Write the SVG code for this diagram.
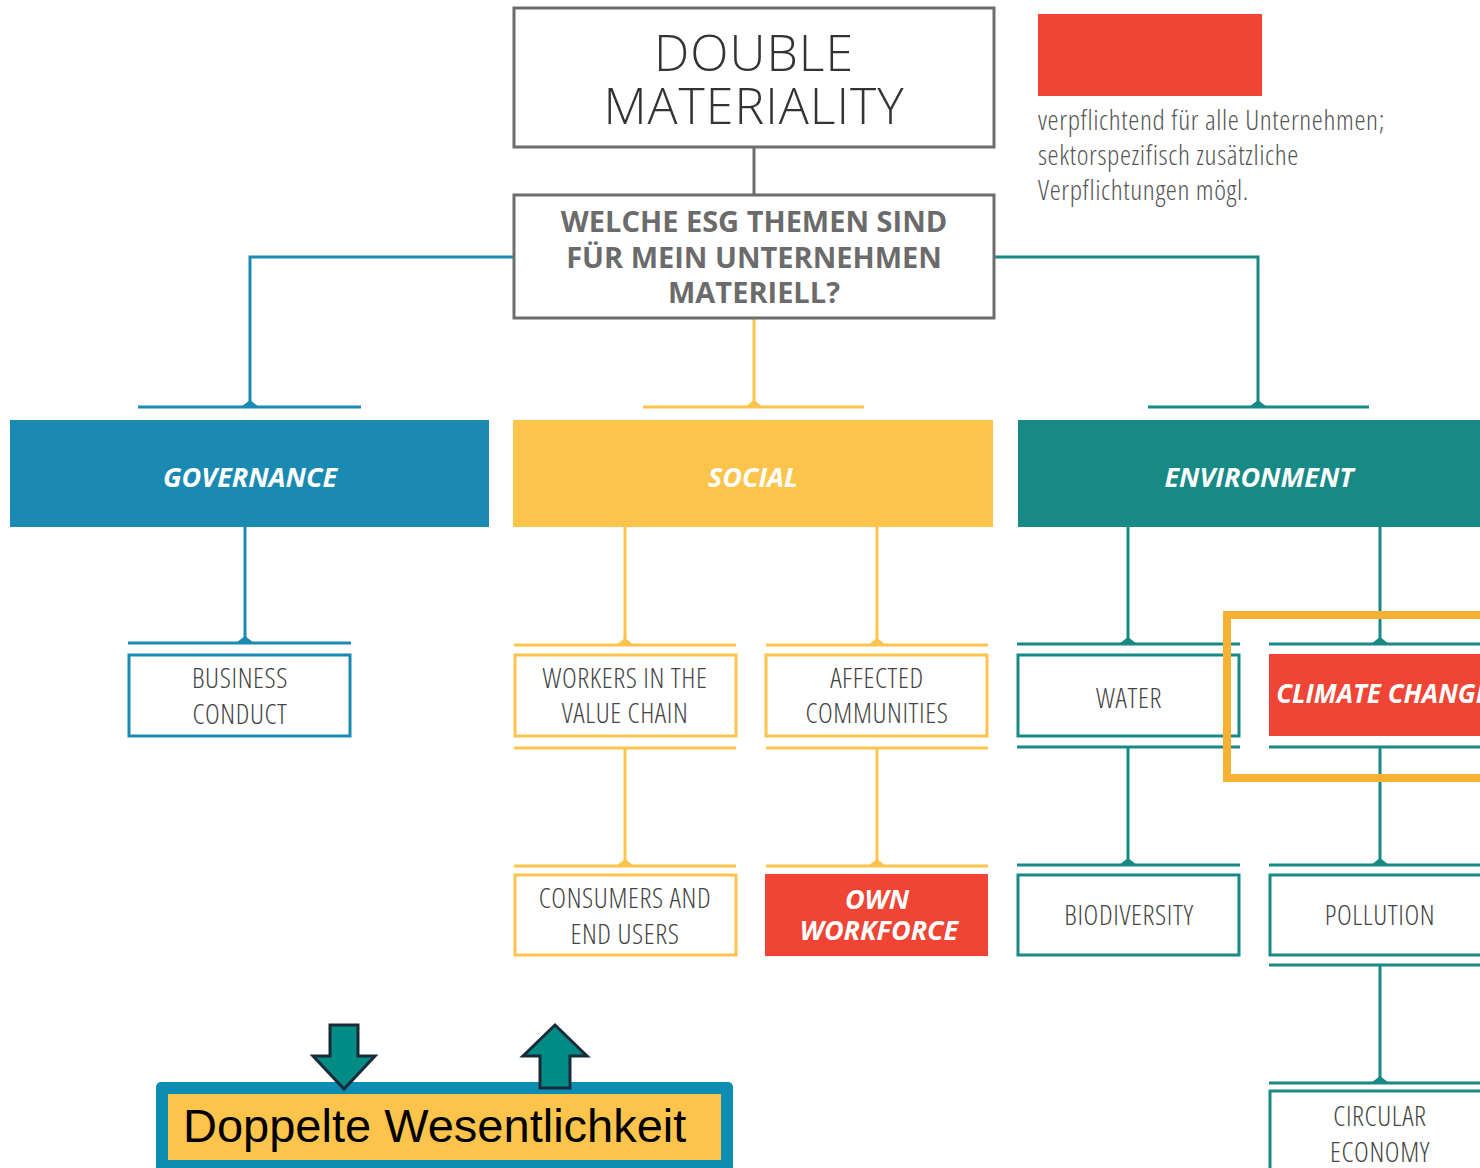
<svg xmlns="http://www.w3.org/2000/svg" width="1480" height="1168" viewBox="0 0 1480 1168">
<style>
.title{font-family:"Open Sans","Liberation Sans",sans-serif;font-weight:300;font-size:50px;fill:#333;text-anchor:middle;letter-spacing:1px}
.q{font-family:"Open Sans","Liberation Sans",sans-serif;font-weight:700;font-size:29px;fill:#6b6b6b;text-anchor:middle}
.hd{font-family:"Open Sans","Liberation Sans",sans-serif;font-weight:700;font-style:italic;font-size:27px;fill:#fff;text-anchor:middle}
.nt{font-family:"Open Sans","Liberation Sans",sans-serif;font-weight:300;font-stretch:condensed;font-size:28px;fill:#444;text-anchor:middle;letter-spacing:0.6px}
.lg{font-family:"Open Sans","Liberation Sans",sans-serif;font-weight:300;font-stretch:condensed;font-size:28px;fill:#555;letter-spacing:0.6px}
.gbox{fill:#fff;stroke:#6d6d6d;stroke-width:3}
.bl{stroke:#1a8ab3;stroke-width:3;fill:none}
.yl{stroke:#fcc44b;stroke-width:3;fill:none}
.tl{stroke:#178a85;stroke-width:3;fill:none}
.blf{fill:#1a8ab3}.ylf{fill:#fcc44b}.tlf{fill:#178a85}
.red{fill:#f04434}
.arrow{fill:#008b85;stroke:#1b2a3a;stroke-width:3;stroke-linejoin:miter}
</style>

<g id="connectors">
  <line x1="754" y1="147" x2="754" y2="195" stroke="#6d6d6d" stroke-width="3"/>
  <!-- governance -->
  <polyline class="bl" points="514,257 250,257 250,406"/>
  <line class="bl" x1="138" y1="407" x2="361" y2="407"/>
  <path class="blf" d="M241,407 L250,400 L259,407 Z"/>
  <line class="bl" x1="245" y1="527" x2="245" y2="643"/>
  <line class="bl" x1="128" y1="643" x2="351" y2="643"/>
  <path class="blf" d="M236,643 L245,636 L254,643 Z"/>
  <!-- social -->
  <line class="yl" x1="754" y1="318" x2="754" y2="406"/>
  <line class="yl" x1="643" y1="407" x2="864" y2="407"/>
  <path class="ylf" d="M745,407 L754,400 L763,407 Z"/>
  <line class="yl" x1="625" y1="527" x2="625" y2="645"/>
  <line class="yl" x1="514" y1="645" x2="736" y2="645"/>
  <path class="ylf" d="M616,645 L625,638 L634,645 Z"/>
  <line class="yl" x1="877" y1="527" x2="877" y2="645"/>
  <line class="yl" x1="766" y1="645" x2="988" y2="645"/>
  <path class="ylf" d="M868,645 L877,638 L886,645 Z"/>
  <line class="yl" x1="514" y1="748" x2="736" y2="748"/>
  <line class="yl" x1="625" y1="748" x2="625" y2="866"/>
  <line class="yl" x1="514" y1="866" x2="736" y2="866"/>
  <path class="ylf" d="M616,866 L625,859 L634,866 Z"/>
  <line class="yl" x1="766" y1="748" x2="988" y2="748"/>
  <line class="yl" x1="877" y1="748" x2="877" y2="866"/>
  <line class="yl" x1="766" y1="866" x2="988" y2="866"/>
  <path class="ylf" d="M868,866 L877,859 L886,866 Z"/>
  <!-- environment -->
  <polyline class="tl" points="994,257 1258,257 1258,406"/>
  <line class="tl" x1="1148" y1="407" x2="1369" y2="407"/>
  <path class="tlf" d="M1249,407 L1258,400 L1267,407 Z"/>
  <line class="tl" x1="1128" y1="527" x2="1128" y2="644"/>
  <line class="tl" x1="1017" y1="644" x2="1240" y2="644"/>
  <path class="tlf" d="M1119,644 L1128,637 L1137,644 Z"/>
  <line class="tl" x1="1380" y1="527" x2="1380" y2="644"/>
  <line class="tl" x1="1269" y1="644" x2="1480" y2="644"/>
  <path class="tlf" d="M1371,644 L1380,637 L1389,644 Z"/>
  <line class="tl" x1="1017" y1="747" x2="1240" y2="747"/>
  <line class="tl" x1="1128" y1="747" x2="1128" y2="865"/>
  <line class="tl" x1="1017" y1="865" x2="1240" y2="865"/>
  <path class="tlf" d="M1119,865 L1128,858 L1137,865 Z"/>
  <line class="tl" x1="1269" y1="747" x2="1480" y2="747"/>
  <line class="tl" x1="1380" y1="747" x2="1380" y2="865"/>
  <line class="tl" x1="1269" y1="865" x2="1480" y2="865"/>
  <path class="tlf" d="M1371,865 L1380,858 L1389,865 Z"/>
  <line class="tl" x1="1269" y1="965" x2="1480" y2="965"/>
  <line class="tl" x1="1380" y1="965" x2="1380" y2="1083"/>
  <line class="tl" x1="1269" y1="1083" x2="1480" y2="1083"/>
  <path class="tlf" d="M1371,1083 L1380,1076 L1389,1083 Z"/>
</g>

<g id="double-materiality">
  <rect class="gbox" x="514" y="8" width="480" height="139"/>
  <text class="title" x="754" y="71">DOUBLE</text>
  <text class="title" x="754" y="124">MATERIALITY</text>
</g>

<g id="question">
  <rect class="gbox" x="514" y="195" width="480" height="123"/>
  <text class="q" x="754" y="232">WELCHE ESG THEMEN SIND</text>
  <text class="q" x="754" y="268">FÜR MEIN UNTERNEHMEN</text>
  <text class="q" x="754" y="303">MATERIELL?</text>
</g>

<g id="legend">
  <rect class="red" x="1038" y="14" width="224" height="82"/>
  <text class="lg" x="1038" y="130">verpflichtend für alle Unternehmen;</text>
  <text class="lg" x="1038" y="165">sektorspezifisch zusätzliche</text>
  <text class="lg" x="1038" y="200">Verpflichtungen mögl.</text>
</g>

<g id="governance">
  <rect class="blf" x="10" y="420" width="479" height="107"/>
  <text class="hd" x="250" y="487">GOVERNANCE</text>
</g>
<g id="social">
  <rect class="ylf" x="513" y="420" width="480" height="107"/>
  <text class="hd" x="753" y="487">SOCIAL</text>
</g>
<g id="environment">
  <rect class="tlf" x="1018" y="420" width="470" height="107"/>
  <text class="hd" x="1259" y="487">ENVIRONMENT</text>
</g>

<g id="business-conduct">
  <rect class="bl" x="129" y="655" width="221" height="81"/>
  <text class="nt" x="240" y="688">BUSINESS</text>
  <text class="nt" x="240" y="724">CONDUCT</text>
</g>

<g id="workers-value-chain">
  <rect class="yl" x="515" y="655" width="221" height="81"/>
  <text class="nt" x="625" y="688">WORKERS IN THE</text>
  <text class="nt" x="625" y="723">VALUE CHAIN</text>
</g>
<g id="affected-communities">
  <rect class="yl" x="766" y="655" width="221" height="81"/>
  <text class="nt" x="877" y="688">AFFECTED</text>
  <text class="nt" x="877" y="723">COMMUNITIES</text>
</g>
<g id="consumers-end-users">
  <rect class="yl" x="515" y="875" width="221" height="80"/>
  <text class="nt" x="625" y="908">CONSUMERS AND</text>
  <text class="nt" x="625" y="944">END USERS</text>
</g>
<g id="own-workforce">
  <rect class="red" x="765" y="874" width="223" height="82"/>
  <text class="hd" x="877" y="909">OWN</text>
  <text class="hd" x="879" y="940">WORKFORCE</text>
</g>

<g id="water">
  <rect class="tl" x="1018" y="655" width="221" height="81"/>
  <text class="nt" x="1129" y="708">WATER</text>
</g>
<g id="climate-change">
  <rect class="red" x="1269" y="654" width="222" height="82"/>
  <text class="hd" x="1383" y="703" style="font-size:26px">CLIMATE CHANGE</text>
</g>
<g id="biodiversity">
  <rect class="tl" x="1018" y="875" width="221" height="80"/>
  <text class="nt" x="1129" y="925">BIODIVERSITY</text>
</g>
<g id="pollution">
  <rect class="tl" x="1270" y="875" width="221" height="80"/>
  <text class="nt" x="1380" y="925">POLLUTION</text>
</g>
<g id="circular-economy">
  <rect class="tl" x="1270" y="1091" width="221" height="80"/>
  <text class="nt" x="1380" y="1126">CIRCULAR</text>
  <text class="nt" x="1380" y="1162">ECONOMY</text>
</g>

<g id="highlight">
  <rect x="1227" y="615" width="270" height="163" fill="none" stroke="#f8b133" stroke-width="8"/>
</g>

<g id="doppelte-wesentlichkeit">
  <rect x="156" y="1082" width="577" height="100" rx="5" fill="#0e8db3"/>
  <rect x="168" y="1094" width="553" height="66" fill="#fcc44b"/>
  <text x="183" y="1142" font-family="Liberation Sans, Arial, sans-serif" font-size="47" fill="#000">Doppelte Wesentlichkeit</text>
</g>

<g id="arrow-down">
  <path class="arrow" d="M330,1025 L358,1025 L358,1056 L375,1056 L344,1089 L313,1056 L330,1056 Z"/>
</g>
<g id="arrow-up">
  <path class="arrow" d="M555,1025 L587,1056 L570,1056 L570,1088 L540,1088 L540,1056 L523,1056 Z"/>
</g>
</svg>
